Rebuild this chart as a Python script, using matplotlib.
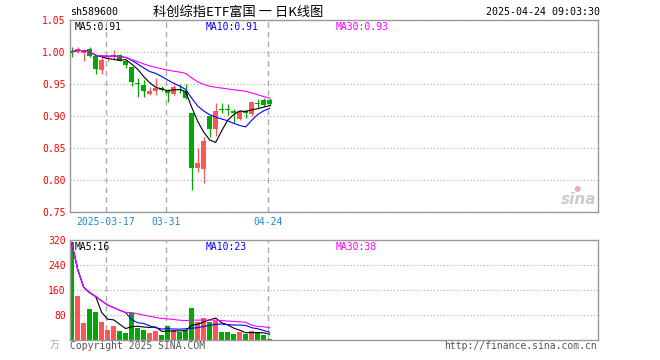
import matplotlib
matplotlib.use('Agg')
import matplotlib.pyplot as plt
from matplotlib.transforms import blended_transform_factory
import numpy as np
import pandas as pd

# daily K line of sh589600, 2025-03-07 .. 2025-04-24
dates = ['03-07', '03-10', '03-11', '03-12', '03-13', '03-14', '03-17', '03-18',
         '03-19', '03-20', '03-21', '03-24', '03-25', '03-26', '03-27', '03-28',
         '03-31', '04-01', '04-02', '04-03', '04-07', '04-08', '04-09', '04-10',
         '04-11', '04-14', '04-15', '04-16', '04-17', '04-18', '04-21', '04-22',
         '04-23', '04-24']
opens = [1.002, 1.000, 0.999, 1.004, 0.993, 0.972, 0.989, 0.993, 0.995, 0.986,
         0.976, 0.952, 0.948, 0.934, 0.938, 0.944, 0.938, 0.934, 0.942, 0.938,
         0.904, 0.818, 0.816, 0.899, 0.879, 0.911, 0.911, 0.908, 0.895, 0.907,
         0.903, 0.920, 0.925, 0.925]
highs = [1.007, 1.007, 1.004, 1.007, 0.994, 0.993, 0.993, 1.003, 0.996, 0.987,
         0.977, 0.959, 0.956, 0.945, 0.959, 0.947, 0.942, 0.948, 0.950, 0.950,
         0.905, 0.850, 0.867, 0.900, 0.920, 0.920, 0.919, 0.911, 0.909, 0.909,
         0.922, 0.926, 0.928, 0.928]
lows = [0.992, 0.999, 0.986, 0.992, 0.965, 0.965, 0.985, 0.988, 0.985, 0.975,
        0.947, 0.930, 0.930, 0.933, 0.932, 0.938, 0.921, 0.933, 0.936, 0.926,
        0.783, 0.812, 0.795, 0.867, 0.869, 0.904, 0.901, 0.889, 0.894, 0.896,
        0.900, 0.912, 0.915, 0.916]
closes = [1.000, 1.005, 1.001, 0.994, 0.974, 0.988, 0.991, 0.995, 0.986, 0.980,
          0.953, 0.950, 0.938, 0.938, 0.944, 0.940, 0.936, 0.945, 0.940, 0.928,
          0.818, 0.826, 0.860, 0.879, 0.908, 0.909, 0.909, 0.904, 0.907, 0.905,
          0.921, 0.918, 0.917, 0.918]
volumes = [312, 139, 53, 98, 89, 56, 30, 43, 27, 20,
           85, 38, 30, 21, 28, 14, 43, 30, 24, 32,
           101, 57, 69, 57, 61, 24, 24, 17, 24, 19,
           27, 23, 15, 1]

price_ticks = [0.75, 0.80, 0.85, 0.90, 0.95, 1.00, 1.05]
vol_ticks = [80, 160, 240, 320]
mark_days = ['03-17', '03-31', '04-24']
mark_labels = ['2025-03-17', '03-31', '04-24']
ma_windows = [5, 10, 30]
ma_colors = ['#000000', '#0000ff', '#ff00ff']
price_ma_text = ['MA5:0.91', 'MA10:0.91', 'MA30:0.93']
vol_ma_text = ['MA5:16', 'MA10:23', 'MA30:38']

RED = '#ff5555'
GREEN = '#00a800'
GRID = '#aaaaaa'
FRAME = '#999999'
MONO = 'DejaVu Sans Mono'

W, H = 660, 360
fig = plt.figure(figsize=(W / 100, H / 100), dpi=100)


def px_axes(left, top, right, bottom):
    return fig.add_axes([left / W, 1 - bottom / H, (right - left) / W, (bottom - top) / H])


ax = px_axes(70, 20, 598, 211.5)
axv = px_axes(70, 240, 598, 339.5)

x = np.arange(len(dates))
o = np.array(opens)
c = np.array(closes)
colors = [RED if cc >= oo else GREEN for oo, cc in zip(o, c)]
marks = [dates.index(d) - 0.33 for d in mark_days]

# candles
ax.vlines(x, lows, highs, colors=colors, linewidth=0.9, zorder=2)
ax.bar(x, np.maximum(np.abs(c - o), 0.0009), bottom=np.minimum(o, c), width=0.8,
       color=colors, linewidth=0, zorder=3)
for n, col in zip(ma_windows, ma_colors):
    ma = pd.Series(closes).rolling(n, min_periods=1).mean()
    ax.plot(x, ma, color=col, linewidth=0.8, zorder=4)

# volume
axv.bar(x, volumes, width=0.8, color=colors, linewidth=0, zorder=2)
for n, col in zip(ma_windows, ma_colors):
    ma = pd.Series(volumes).rolling(n, min_periods=1).mean()
    axv.plot(x, ma, color=col, linewidth=0.8, zorder=4)

for a, ticks, fmt in [(ax, price_ticks, '{:.2f}'), (axv, vol_ticks, '{:d}')]:
    a.set_xlim(-0.28, 87.72)
    a.set_ylim(ticks[0] if a is ax else 0, ticks[-1])
    a.set_yticks(ticks)
    a.set_yticklabels([fmt.format(t) for t in ticks], color='#ff0000',
                      fontsize=7, family=MONO)
    a.set_xticks([])
    a.tick_params(axis='y', length=0, pad=3)
    a.grid(axis='y', color=GRID, linestyle=(0, (1, 2)), linewidth=0.8)
    for m in marks:
        a.axvline(m, color=GRID, linestyle=(0, (4, 3)), linewidth=1, zorder=1)
    for s in a.spines.values():
        s.set_color(FRAME)
        s.set_linewidth(1.0)
    a.set_facecolor('white')

axv.text(-0.02, 0.0, '万', transform=axv.transAxes, ha='right', va='top',
         fontsize=7, color='#aaaaaa', family=['Noto Sans CJK SC'])

# date labels under the price chart
tr = blended_transform_factory(ax.transData, ax.transAxes)
for m, lab in zip(marks, mark_labels):
    ax.text(m, -0.03, lab, transform=tr, ha='center', va='top', fontsize=7,
            color='#1f88d2', family=MONO)

# MA legends
for a, texts, ty in [(ax, price_ma_text, 27), (axv, vol_ma_text, 246.5)]:
    for t, col, tx in zip(texts, ma_colors, [75, 206, 336]):
        fig.text(tx / W, 1 - ty / H, t, color=col, fontsize=7, family=MONO,
                 va='center', ha='left')

# header
fig.text(70 / W, 1 - 12 / H, 'sh589600', fontsize=7.2, family=MONO, va='center')
fig.text(238 / W, 1 - 12 / H, '科创综指ETF富国 一 日K线图', fontsize=9.5,
         family=['Noto Sans CJK SC', 'DejaVu Sans'], va='center', ha='center')
fig.text(600 / W, 1 - 12 / H, '2025-04-24 09:03:30', fontsize=7.2, family=MONO,
         va='center', ha='right')

# footer
fig.text(70 / W, 1 - 346 / H, 'Copyright 2025 SINA.COM', fontsize=7, family=MONO,
         va='center', color='#555555')
fig.text(597 / W, 1 - 346 / H, 'http://finance.sina.com.cn', fontsize=7, family=MONO,
         va='center', ha='right', color='#555555')

# watermark
fig.text(596 / W, 1 - 200 / H, 'sina', fontsize=11, style='italic', weight='bold',
         color='#cccccc', ha='right', va='center')
fig.text(577 / W, 1 - 189 / H, '●', fontsize=6, color='#f4b0b0', ha='center', va='center')

fig.savefig('out.png', dpi=100, facecolor='white')
